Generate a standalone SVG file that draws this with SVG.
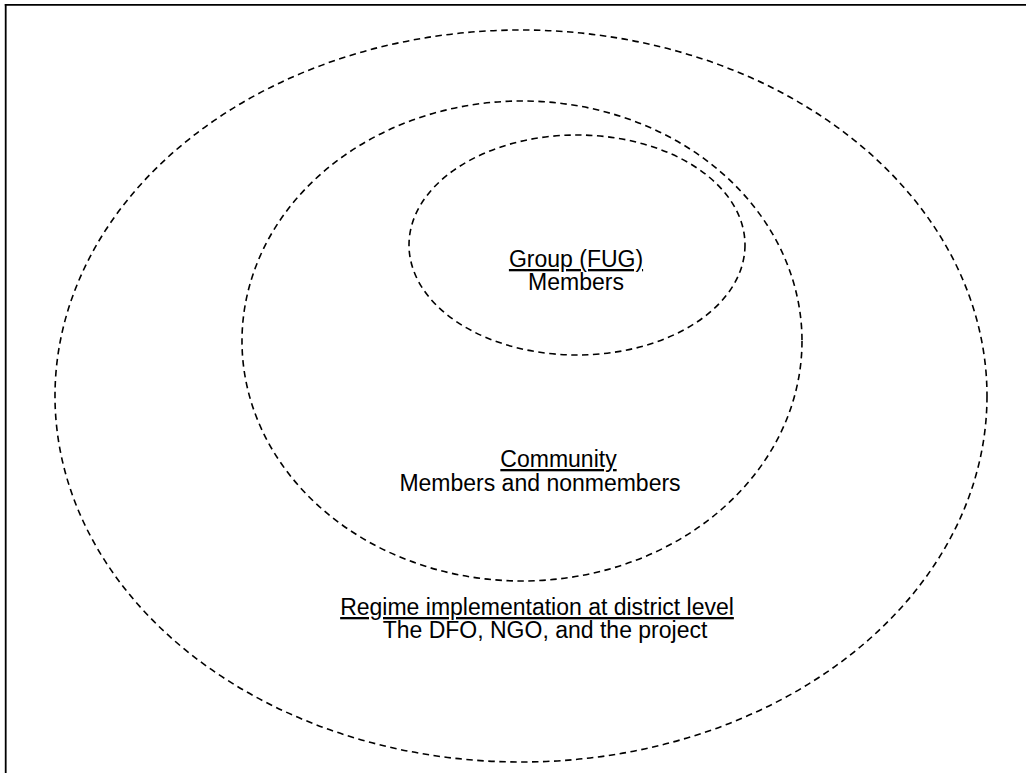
<svg xmlns="http://www.w3.org/2000/svg" width="1026" height="773" viewBox="0 0 1026 773">
  <style>
    .ring { fill: none; stroke: #000; stroke-width: 1.6; stroke-dasharray: 6.5 4.5; }
    .lbl { font-family: "Liberation Sans", Arial, sans-serif; font-size: 23px; fill: #000; text-anchor: middle; }
    .head { text-decoration: underline; }
  </style>
  <rect width="1026" height="773" fill="#fff"/>
  <!-- frame: top and left edges -->
  <g id="frame" stroke="#000" stroke-width="1.8" fill="none">
    <line x1="4.8" y1="4.9" x2="1026" y2="4.9"/>
    <line x1="5.7" y1="4" x2="5.7" y2="773"/>
  </g>
  <g id="district">
    <ellipse class="ring" cx="521" cy="396" rx="466" ry="366"/>
    <text class="lbl" x="537" y="615"><tspan class="head">Regime implementation at district level</tspan></text>
    <text class="lbl" x="545" y="638">The DFO, NGO, and the project</text>
  </g>
  <g id="community">
    <ellipse class="ring" cx="522" cy="341" rx="280" ry="240"/>
    <text class="lbl" x="558.5" y="467"><tspan class="head">Community</tspan></text>
    <text class="lbl" x="540" y="491">Members and nonmembers</text>
  </g>
  <g id="group">
    <ellipse class="ring" cx="577" cy="245" rx="168" ry="110"/>
    <text class="lbl" x="576" y="267"><tspan class="head">Group (FUG)</tspan></text>
    <text class="lbl" x="576" y="290">Members</text>
  </g>
  <g id="connectors"/>
</svg>
